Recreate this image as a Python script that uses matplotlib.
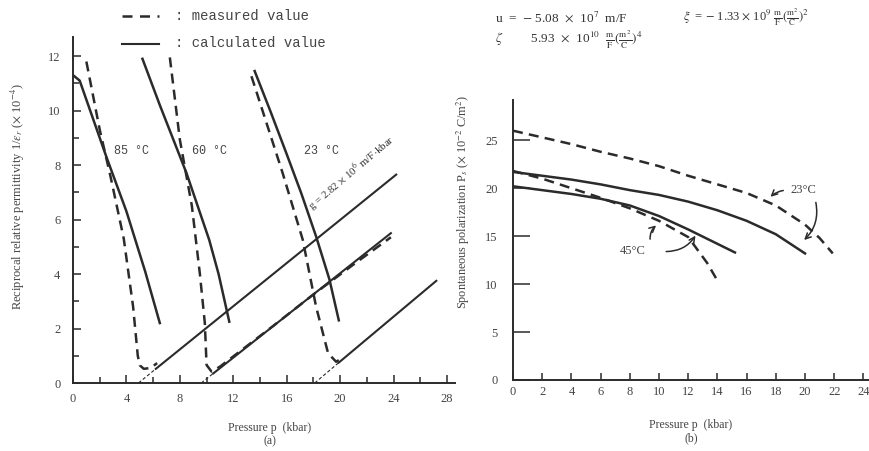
import matplotlib
matplotlib.use("Agg")
import matplotlib.pyplot as plt
from matplotlib.lines import Line2D

plt.rcParams['font.family'] = ['Liberation Serif', 'DejaVu Serif']
plt.rcParams['mathtext.fontset'] = 'stix'

ink = '#2b2b2b'

# ---- (a) reciprocal permittivity vs pressure ----
calc85_p = [0.0, 0.5, 1.5, 2.5, 4.0, 5.4, 6.5]
calc85_v = [11.3, 11.1, 9.7, 8.3, 6.3, 4.1, 2.2]
meas85_p = [1.0, 2.0, 2.8, 3.8, 4.5, 4.85, 5.0, 5.3, 5.8, 6.3]
meas85_v = [11.8, 9.3, 7.6, 5.3, 2.8, 1.0, 0.65, 0.52, 0.55, 0.73]

calc60_p = [5.2, 6.5, 8.5, 10.2, 10.9, 11.7]
calc60_v = [11.9, 10.2, 7.7, 5.25, 4.0, 2.25]
meas60_p = [7.25, 8.0, 8.9, 9.5, 9.87, 10.0, 10.37, 11.0, 13.0, 15.0, 18.0, 21.0, 23.8]
meas60_v = [11.95, 8.93, 6.5, 4.0, 2.2, 0.66, 0.42, 0.6, 1.35, 2.1, 3.25, 4.35, 5.35]

calc23_p = [13.6, 14.8, 16.0, 17.1, 18.2, 19.2, 19.9]
calc23_v = [11.45, 9.95, 8.4, 6.95, 5.38, 3.8, 2.3]
meas23_p = [13.36, 15.7, 17.2, 18.2, 19.1, 19.7, 20.1]
meas23_v = [11.26, 7.7, 5.26, 2.8, 1.09, 0.78, 0.9]

# paraelectric straight lines: axis intercept, start of solid part, end
line_p0 = [4.9, 9.6, 18.1]
line_ps = [6.2, 10.5, 19.9]
line_vs = [0.52, 0.35, 0.75]
line_p1 = [24.2, 23.8, 27.2]
line_v1 = [7.65, 5.5, 3.75]

temp_labels_a = ['85 °C', '60 °C', '23 °C']
temp_p_a = [4.4, 10.2, 18.6]
temp_v_a = [8.5, 8.5, 8.5]

# ---- (b) spontaneous polarization vs pressure ----
m23_p = [0, 2, 4, 6, 8, 10, 12, 14, 16, 18, 20, 21, 21.9]
m23_P = [26.0, 25.3, 24.6, 23.8, 23.1, 22.3, 21.3, 20.4, 19.5, 18.2, 16.2, 14.8, 13.2]
c23_p = [0, 2, 4, 6, 8, 10, 12, 14, 16, 18, 20]
c23_P = [21.7, 21.3, 20.9, 20.4, 19.8, 19.3, 18.6, 17.7, 16.6, 15.2, 13.2]
c45_p = [0, 2, 4, 6, 8, 10, 12, 14, 15.2]
c45_P = [20.2, 19.8, 19.4, 18.9, 18.2, 17.1, 15.7, 14.2, 13.3]
m45_p = [0, 2, 4, 6, 8, 10, 12, 13.3, 14.1]
m45_P = [21.8, 21.0, 20.0, 19.0, 17.9, 16.6, 14.9, 12.2, 10.1]

fig = plt.figure(figsize=(8.7, 4.51), dpi=100)
W, H = 870.0, 451.0

def fx(x):
    return x / W

def fy(y):
    return 1 - y / H

dash = (0, (4, 2.5))

# left panel
ax = fig.add_axes([fx(73), fy(383), 382 / W, 346 / H])
ax.set_xlim(0, 28.6)
ax.set_ylim(0, 12.7)

ax.plot(calc85_p, calc85_v, color=ink, lw=1.8)
ax.plot(calc60_p, calc60_v, color=ink, lw=1.8)
ax.plot(calc23_p, calc23_v, color=ink, lw=1.8)
ax.plot(meas85_p, meas85_v, color=ink, lw=1.8, ls=dash)
ax.plot(meas60_p, meas60_v, color=ink, lw=1.8, ls=dash)
ax.plot(meas23_p, meas23_v, color=ink, lw=1.8, ls=dash)

for p0, ps, vs, p1, v1 in zip(line_p0, line_ps, line_vs, line_p1, line_v1):
    ax.plot([p0, ps], [0, vs], color=ink, lw=0.8, ls=(0, (3, 2)))
    ax.plot([ps, p1], [vs, v1], color=ink, lw=1.5)

for lab, p, v in zip(temp_labels_a, temp_p_a, temp_v_a):
    ax.text(p, v, lab, ha='center', va='center', fontsize=8.5,
            family='Liberation Mono', color='#444444')

ax.text(18.1, 6.2, r'g = 2.82 $\times$ 10$^{6}$ m/F$\cdot$kbar', rotation=40,
        rotation_mode='anchor', ha='left', va='bottom', fontsize=7.8, color='#333333')

ax.set_xticks(range(0, 29, 4))
ax.set_xticks(range(2, 29, 4), minor=True)
ax.set_yticks(range(0, 13, 2))
ax.set_yticks(range(1, 13, 2), minor=True)
ax.tick_params(which='major', direction='in', length=6, width=1.1, labelsize=9,
               colors=ink, labelcolor='#444444')
ax.tick_params(which='minor', direction='in', length=4, width=1.1, colors=ink)
ax.tick_params(axis='x', which='major', pad=7)
ax.tick_params(axis='y', which='major', pad=9)
for s in ['top', 'right']:
    ax.spines[s].set_visible(False)
for s in ['left', 'bottom']:
    ax.spines[s].set_linewidth(1.4)
    ax.spines[s].set_color(ink)

# right panel
bx = fig.add_axes([fx(513), fy(380), 357 / W, 280 / H])
bx.set_xlim(0, 24.45)
bx.set_ylim(0, 29.2)

bx.plot(m23_p, m23_P, color=ink, lw=1.8, ls=dash)
bx.plot(c23_p, c23_P, color=ink, lw=1.8)
bx.plot(c45_p, c45_P, color=ink, lw=1.8)
bx.plot(m45_p, m45_P, color=ink, lw=1.8, ls=dash)

bx.text(19.9, 19.8, '23°C', ha='center', va='center', fontsize=9, color='#444444')
bx.annotate('', xy=(17.5, 18.9), xytext=(18.7, 19.8),
            arrowprops=dict(arrowstyle='->', color=ink, lw=1.1,
                            connectionstyle='arc3,rad=0.2'))
bx.annotate('', xy=(19.8, 14.4), xytext=(20.7, 18.8),
            arrowprops=dict(arrowstyle='->', color=ink, lw=1.1,
                            connectionstyle='arc3,rad=-0.3'))
bx.text(8.2, 13.5, '45°C', ha='center', va='center', fontsize=9, color='#444444')
bx.annotate('', xy=(9.95, 16.3), xytext=(9.4, 14.4),
            arrowprops=dict(arrowstyle='->', color=ink, lw=1.1,
                            connectionstyle='arc3,rad=-0.3'))
bx.annotate('', xy=(12.6, 15.3), xytext=(10.3, 13.4),
            arrowprops=dict(arrowstyle='->', color=ink, lw=1.1,
                            connectionstyle='arc3,rad=0.3'))

bx.set_xticks(range(0, 25, 2))
bx.set_xticks([10, 20], minor=True)
bx.set_yticks(range(0, 26, 5))
bx.tick_params(which='major', direction='in', length=5, width=1.1, labelsize=9,
               colors=ink, labelcolor='#444444')
bx.tick_params(which='minor', direction='in', length=9, width=1.1, colors=ink)
bx.tick_params(axis='y', which='major', length=12, pad=11)
bx.tick_params(axis='x', which='major', pad=4)
for s in ['top', 'right']:
    bx.spines[s].set_visible(False)
for s in ['left', 'bottom']:
    bx.spines[s].set_linewidth(1.4)
    bx.spines[s].set_color(ink)

# axis labels
fig.text(fx(18), fy(197), r'Reciprocal relative permittivity 1/$\varepsilon_r$ ($\times$ 10$^{-4}$)',
         rotation=90, ha='center', va='center', fontsize=9, color='#444444')
fig.text(fx(463), fy(202), r'Spontaneous polarization P$_s$ ($\times$ 10$^{-2}$ C/m$^2$)',
         rotation=90, ha='center', va='center', fontsize=8.8, color='#444444')
fig.text(fx(270), fy(428), 'Pressure p  (kbar)', ha='center', va='center', fontsize=8.5, color='#444444')
fig.text(fx(270), fy(441), '(a)', ha='center', va='center', fontsize=8.5, color='#444444')
fig.text(fx(691), fy(425), 'Pressure p  (kbar)', ha='center', va='center', fontsize=8.5, color='#444444')
fig.text(fx(691), fy(438), '(b)', ha='center', va='center', fontsize=8.5, color='#444444')

# legend
fig.add_artist(Line2D([fx(122), fx(159)], [fy(16), fy(16)], color=ink, lw=1.8, ls=(0, (4, 3))))
fig.add_artist(Line2D([fx(122), fx(159)], [fy(44), fy(44)], color=ink, lw=1.5))
fig.text(fx(175), fy(16), ': measured value', ha='left', va='center', fontsize=10,
         family='Liberation Mono', color='#444444')
fig.text(fx(175), fy(43), ': calculated value', ha='left', va='center', fontsize=10,
         family='Liberation Mono', color='#444444')

# constants
fig.text(fx(495), fy(17), r'u  =  $-$ 5.08  $\times$  10$^{7}$  m/F', ha='left', va='center',
         fontsize=9.5, color='#333333')
fig.text(fx(683), fy(17), r'$\xi$  = $-$ 1.33 $\times$ 10$^{9}$ $\frac{\rm m}{\rm F}(\frac{\rm m^2}{\rm C})^2$',
         ha='left', va='center', fontsize=9, color='#333333')
fig.text(fx(495), fy(40), r'$\zeta$         5.93  $\times$  10$^{10}$  $\frac{\rm m}{\rm F}(\frac{\rm m^2}{\rm C})^4$',
         ha='left', va='center', fontsize=9.5, color='#333333')

fig.savefig('out.png', dpi=100)
